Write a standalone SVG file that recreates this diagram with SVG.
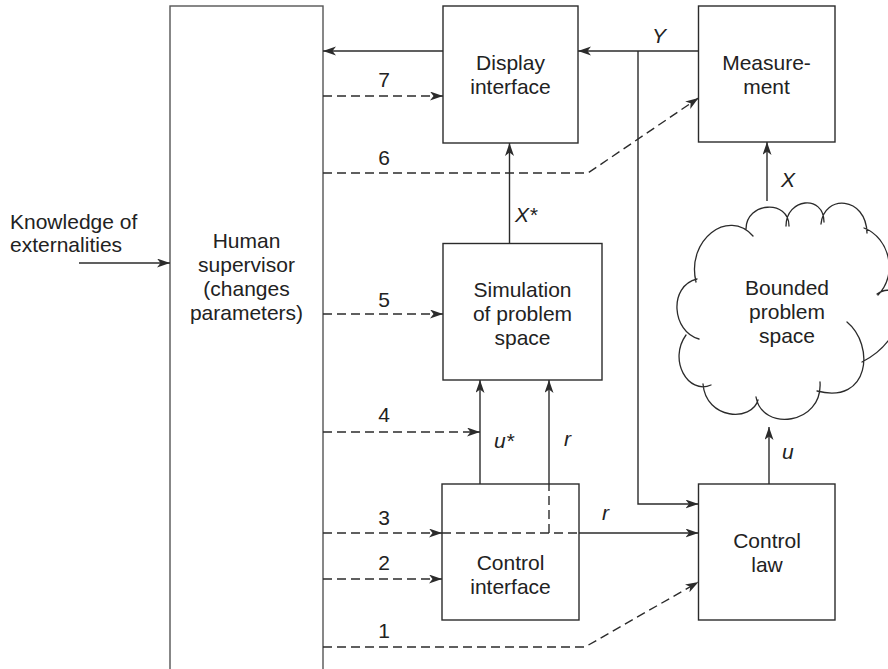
<svg xmlns="http://www.w3.org/2000/svg" width="888" height="669" viewBox="0 0 888 669">
  <style>
    .box { fill: #ffffff; stroke: #2b2b2b; stroke-width: 1.4; }
    .txt { font-family: "Liberation Sans", Arial, Helvetica, sans-serif; font-size: 21px; fill: #222222; text-anchor: middle; }
    .lbl { font-family: "Liberation Sans", Arial, Helvetica, sans-serif; font-size: 21px; fill: #222222; }
    .it { font-style: italic; }
    .ln { fill: none; stroke: #2b2b2b; stroke-width: 1.4; }
    .ln.arr { marker-end: url(#head); }
    .dash { stroke-dasharray: 9 5; }
    .cloud { fill: none; stroke: #2b2b2b; stroke-width: 1.3; stroke-linecap: round; }
  </style>
  <defs>
    <marker id="head" markerUnits="userSpaceOnUse" markerWidth="14" markerHeight="10" refX="13" refY="4.5" orient="auto">
      <path d="M0,0 L13,4.5 L0,9 L3.5,4.5 Z" fill="#2b2b2b" stroke="none"/>
    </marker>
  </defs>
  <rect width="888" height="669" fill="#ffffff"/>

  <!-- external input -->
  <g id="externalities">
    <text class="lbl" x="10" y="229">Knowledge of</text>
    <text class="lbl" x="10" y="252">externalities</text>
  </g>

  <!-- nodes -->
  <g id="human-supervisor">
    <rect class="box" x="170" y="6" width="153" height="680" style="stroke:#555555"/>
    <text class="txt" x="246.5" y="248">Human</text>
    <text class="txt" x="246.5" y="272">supervisor</text>
    <text class="txt" x="246.5" y="296">(changes</text>
    <text class="txt" x="246.5" y="320">parameters)</text>
  </g>

  <g id="display-interface">
    <rect class="box" x="443" y="6" width="135" height="137"/>
    <text class="txt" x="510.5" y="70">Display</text>
    <text class="txt" x="510.5" y="94">interface</text>
  </g>

  <g id="measurement">
    <rect class="box" x="698.5" y="6" width="136.5" height="136"/>
    <text class="txt" x="766.5" y="70">Measure-</text>
    <text class="txt" x="766.5" y="94">ment</text>
  </g>

  <g id="simulation">
    <rect class="box" x="443" y="243.5" width="159" height="136.5"/>
    <text class="txt" x="522.5" y="297">Simulation</text>
    <text class="txt" x="522.5" y="321">of problem</text>
    <text class="txt" x="522.5" y="345">space</text>
  </g>

  <g id="bounded-problem-space">
    <!-- cloud outline drawn as overlapping lobes -->
    <path class="cloud" d="
      M696,282 C686,240 728,208 753,236
      M746,229 C746,202 789,199 789,226
      M786,226 C786,198 824,194 824,222
      M821,224 C824,194 866,196 867,233
      M864,228 C890,238 898,275 878,295
      M877,294 C905,275 915,335 862,362
      M847,322 C875,345 870,405 817,391
      M820,382 C823,425 762,432 756,397
      M758,400 C752,422 706,420 703,384
      M711,385 C688,395 668,360 686,335
      M699,339 C672,332 668,286 697,279"/>
    <text class="txt" x="787" y="295">Bounded</text>
    <text class="txt" x="787" y="319">problem</text>
    <text class="txt" x="787" y="343">space</text>
  </g>

  <g id="control-interface">
    <rect class="box" x="442" y="484" width="137" height="136"/>
    <text class="txt" x="510.5" y="570">Control</text>
    <text class="txt" x="510.5" y="594">interface</text>
  </g>

  <g id="control-law">
    <rect class="box" x="698.5" y="484" width="136.5" height="136"/>
    <text class="txt" x="767" y="548">Control</text>
    <text class="txt" x="767" y="572">law</text>
  </g>

  <!-- connectors -->
  <g id="connectors">
    <path class="ln arr" d="M79,263 L170,263"/>
    <path class="ln arr" d="M443,51 L323,51"/>
    <path class="ln arr" d="M698.5,51 L578,51"/>
    <path class="ln arr" d="M638,51 L638,504 L698.5,504"/>
    <path class="ln arr dash" d="M323,96 L443,96"/>
    <path class="ln arr dash" d="M323,173 L588,173 L698.5,98"/>
    <path class="ln arr" d="M509.5,243.5 L509.5,143"/>
    <path class="ln arr" d="M767,201 L767,142"/>
    <path class="ln arr dash" d="M323,314 L443,314"/>
    <path class="ln arr dash" d="M323,432 L480,432"/>
    <path class="ln arr" d="M480,484 L480,380"/>
    <path class="ln arr" d="M549,484 L549,380"/>
    <path class="ln arr dash" d="M323,533 L442,533"/>
    <path class="ln dash" d="M442,533 L579,533"/>
    <path class="ln dash" d="M549,533 L549,484"/>
    <path class="ln arr" d="M579,533 L698.5,533"/>
    <path class="ln arr dash" d="M323,579 L442,579"/>
    <path class="ln arr dash" d="M323,647 L585,647 L698.5,582"/>
    <path class="ln arr" d="M769,484 L769,427"/>

    <!-- connector labels -->
    <text class="txt" x="384" y="87">7</text>
    <text class="txt" x="384" y="165">6</text>
    <text class="txt" x="384" y="307">5</text>
    <text class="txt" x="384" y="422">4</text>
    <text class="txt" x="384" y="525">3</text>
    <text class="txt" x="384" y="570">2</text>
    <text class="txt" x="384" y="638">1</text>
    <text class="lbl it" x="652" y="43">Y</text>
    <text class="lbl it" x="781" y="187">X</text>
    <text class="lbl it" x="515" y="222">X*</text>
    <text class="lbl it" x="494" y="448">u*</text>
    <text class="lbl it" x="564" y="446">r</text>
    <text class="lbl it" x="602" y="520">r</text>
    <text class="lbl it" x="782" y="459">u</text>
  </g>
</svg>
